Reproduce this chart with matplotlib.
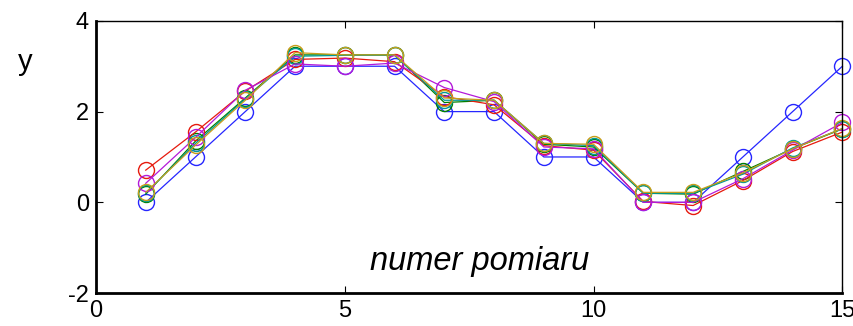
import matplotlib.pyplot as plt

plt.rcParams['font.family'] = ['Liberation Sans', 'DejaVu Sans']
plt.rcParams['axes.unicode_minus'] = False

# measurement index
x = list(range(1, 16))

# ideal signal and noisy repeats
y_blue = [0, 1, 2, 3, 3, 3, 2, 2, 1, 1, 0, 0, 1, 2, 3]
y_green = [0.18, 1.35, 2.3, 3.25, 3.25, 3.25, 2.2, 2.25, 1.28, 1.22, 0.2, 0.18, 0.68, 1.18, 1.62]
y_red = [0.71, 1.55, 2.45, 3.15, 3.18, 3.1, 2.33, 2.15, 1.25, 1.15, 0.02, -0.07, 0.48, 1.12, 1.55]
y_cyan = [0.2, 1.3, 2.28, 3.22, 3.24, 3.24, 2.25, 2.25, 1.3, 1.25, 0.2, 0.2, 0.62, 1.2, 1.62]
y_magenta = [0.42, 1.43, 2.47, 3.05, 3.0, 3.07, 2.53, 2.22, 1.22, 1.18, 0.0, 0.0, 0.52, 1.15, 1.76]
y_olive = [0.22, 1.26, 2.25, 3.3, 3.25, 3.25, 2.3, 2.25, 1.3, 1.28, 0.22, 0.22, 0.65, 1.18, 1.63]

series = [
    (y_blue, (0.15, 0.15, 1.0)),
    (y_green, (0.0, 0.5, 0.0)),
    (y_red, (0.9, 0.1, 0.05)),
    (y_cyan, (0.0, 0.6, 0.6)),
    (y_magenta, (0.7, 0.1, 0.85)),
    (y_olive, (0.78, 0.62, 0.1)),
]

fig = plt.figure(figsize=(8.54, 3.26), dpi=100)
ax = fig.add_axes([0.1124, 0.101, 0.874, 0.835])

for vals, col in series:
    ax.plot(x, vals, marker='o', markersize=11.5, markerfacecolor='none',
            markeredgewidth=1.0, linewidth=0.9, color=col, clip_on=False)

ax.set_xlim(0, 15)
ax.set_ylim(-2, 4)
ax.set_xticks([0, 5, 10, 15])
ax.set_yticks([-2, 0, 2, 4])
ax.tick_params(direction='in', length=5, width=0.8, labelsize=17,
               top=True, right=True, pad=5)
for side in ['left', 'bottom']:
    ax.spines[side].set_linewidth(2.0)
for side in ['top', 'right']:
    ax.spines[side].set_linewidth(1.0)

ax.text(7.7, -1.3, 'numer pomiaru', fontsize=23.5, style='italic',
        ha='center', va='center')
fig.text(25 / 854, 1 - 62 / 326, 'y', fontsize=21, ha='center', va='center')

fig.savefig('out.png', dpi=100)
